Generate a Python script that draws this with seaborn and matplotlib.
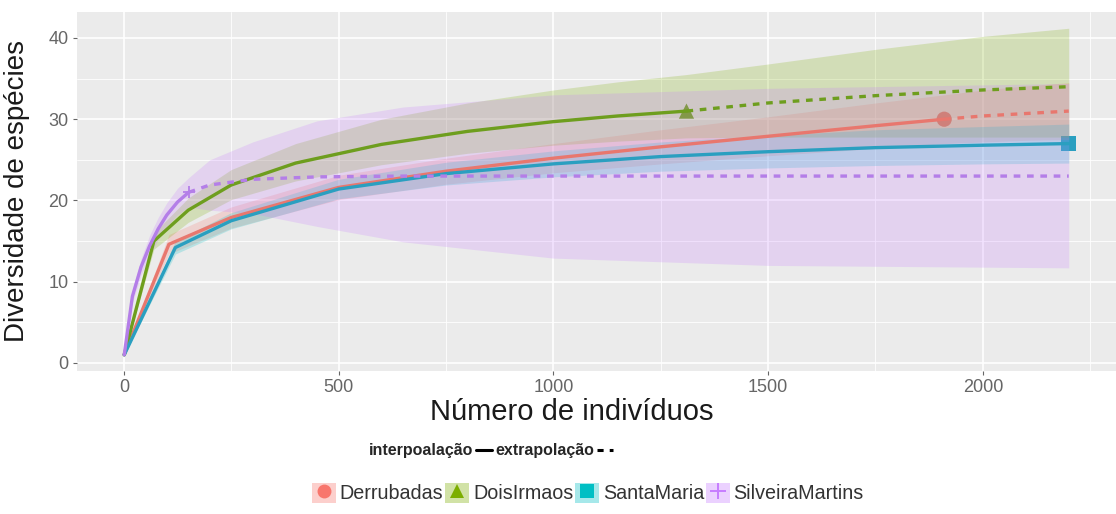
import numpy as np
import pandas as pd
import matplotlib
matplotlib.use("Agg")
import matplotlib.pyplot as plt
from matplotlib.lines import Line2D
from matplotlib.patches import Patch
import seaborn as sns

# ---------------- data ----------------
sites = ["Derrubadas", "DoisIrmaos", "SantaMaria", "SilveiraMartins"]
colors = ["#F8766D", "#7CAE00", "#00BFC4", "#C77CFF"]
line_colors = ["#E8776E", "#6E9E1E", "#2A9FC0", "#B47EE8"]
markers = ["o", "^", "s", "+"]

# Derrubadas
der_n_int = [1, 105, 250, 500, 750, 1000, 1250, 1500, 1750, 1910]
der_s_int = [1, 14.6, 17.9, 21.6, 23.6, 25.2, 26.6, 27.9, 29.2, 30.0]
der_lo_int = [1, 13.4, 16.6, 20.1, 22.0, 23.4, 24.5, 25.5, 26.4, 27.0]
der_hi_int = [1, 15.8, 19.2, 23.1, 25.2, 27.0, 28.7, 30.3, 32.0, 33.0]
der_n_ext = [1910, 2000, 2100, 2200]
der_s_ext = [30.0, 30.4, 30.7, 31.0]
der_lo_ext = [27.0, 27.2, 27.4, 27.5]
der_hi_ext = [33.0, 33.6, 34.1, 34.5]

# DoisIrmaos
doi_n_int = [1, 70, 150, 250, 400, 600, 800, 1000, 1150, 1310]
doi_s_int = [1, 15.0, 18.8, 21.9, 24.6, 26.9, 28.5, 29.7, 30.4, 31.0]
doi_lo_int = [1, 14.0, 17.3, 20.1, 22.4, 24.4, 25.8, 26.8, 27.3, 27.7]
doi_hi_int = [1, 16.0, 20.3, 23.8, 27.0, 30.0, 32.0, 33.6, 34.6, 35.5]
doi_n_ext = [1310, 1500, 1750, 2000, 2200]
doi_s_ext = [31.0, 32.0, 32.9, 33.6, 34.0]
doi_lo_ext = [27.7, 27.8, 27.8, 27.8, 27.8]
doi_hi_ext = [35.5, 36.8, 38.6, 40.2, 41.2]

# SantaMaria
san_n_int = [1, 120, 250, 500, 750, 1000, 1250, 1500, 1750, 2000, 2200]
san_s_int = [1, 14.2, 17.5, 21.4, 23.3, 24.5, 25.4, 26.0, 26.5, 26.8, 27.0]
san_lo_int = [1, 13.4, 16.5, 20.2, 21.9, 22.9, 23.6, 24.0, 24.3, 24.5, 24.6]
san_hi_int = [1, 15.0, 18.5, 22.6, 24.7, 26.1, 27.2, 28.0, 28.7, 29.1, 29.4]
san_n_ext = [2200]
san_s_ext = [27.0]
san_lo_ext = [24.6]
san_hi_ext = [29.4]

# SilveiraMartins
sil_n_int = [1, 20, 40, 60, 80, 100, 125, 151]
sil_s_int = [1, 8.2, 11.8, 14.4, 16.5, 18.2, 19.8, 21.0]
sil_lo_int = [1, 7.4, 10.8, 13.2, 15.2, 16.8, 18.2, 19.2]
sil_hi_int = [1, 9.0, 12.8, 15.7, 17.9, 19.7, 21.5, 22.8]
sil_n_ext = [151, 200, 300, 450, 650, 1000, 1500, 2200]
sil_s_ext = [21.0, 21.9, 22.6, 22.9, 23.0, 23.0, 23.0, 23.0]
sil_lo_ext = [19.2, 18.8, 18.4, 16.8, 14.9, 12.9, 12.0, 11.7]
sil_hi_ext = [22.8, 25.0, 27.2, 29.8, 31.5, 33.0, 33.8, 34.4]

lty_labels = ["interpoalação", "extrapolação"]
x_ticks = [0, 500, 1000, 1500, 2000]
y_ticks = [0, 10, 20, 30, 40]

series = [
    (der_n_int, der_s_int, der_lo_int, der_hi_int, der_n_ext, der_s_ext, der_lo_ext, der_hi_ext),
    (doi_n_int, doi_s_int, doi_lo_int, doi_hi_int, doi_n_ext, doi_s_ext, doi_lo_ext, doi_hi_ext),
    (san_n_int, san_s_int, san_lo_int, san_hi_int, san_n_ext, san_s_ext, san_lo_ext, san_hi_ext),
    (sil_n_int, sil_s_int, sil_lo_int, sil_hi_int, sil_n_ext, sil_s_ext, sil_lo_ext, sil_hi_ext),
]

# ---------------- style ----------------
sns.set_theme(style="darkgrid", rc={
    "axes.facecolor": "#EBEBEB",
    "grid.color": "white",
    "axes.edgecolor": "none",
})
plt.rcParams["font.family"] = ["Liberation Sans", "DejaVu Sans"]

fig = plt.figure(figsize=(11.16, 5.14), dpi=100)
ax = fig.add_axes([77 / 1116, 1 - 371 / 514, 1039 / 1116, 359 / 514])

LW = 2.4
for i, (ni, si, li, hi, ne, se, le, he) in enumerate(series):
    c = line_colors[i]
    sns.lineplot(x=ni, y=si, ax=ax, color=c, linewidth=LW, sort=False,
                 estimator=None, legend=False)
    if len(ne) > 1:
        sns.lineplot(x=ne, y=se, ax=ax, color=c, linewidth=LW, sort=False,
                     estimator=None, legend=False, dashes=False)
        ax.lines[-1].set_dashes((2, 2))
    # observed point
    if markers[i] == "+":
        ax.plot([ni[-1]], [si[-1]], marker="+", color=c, markersize=9,
                markeredgewidth=1.3, linestyle="none")
    else:
        sns.scatterplot(x=[ni[-1]], y=[si[-1]], ax=ax, color=c, marker=markers[i],
                        s=120, edgecolor="none", legend=False)

# ribbons drawn on top (as in ggiNEXT)
for i, (ni, si, li, hi, ne, se, le, he) in enumerate(series):
    c = colors[i]
    n_all = list(ni) + list(ne[1:])
    lo_all = list(li) + list(le[1:])
    hi_all = list(hi) + list(he[1:])
    ax.fill_between(n_all, lo_all, hi_all, color=c, alpha=0.22, linewidth=0)

ax.set_xlim(-109, 2310)
ax.set_ylim(-1.0, 43.2)
ax.set_xticks(x_ticks)
ax.set_yticks(y_ticks)
ax.set_xticks([250, 750, 1250, 1750, 2250], minor=True)
ax.set_yticks([5, 15, 25, 35], minor=True)
ax.grid(which="major", color="white", linewidth=1.2)
ax.grid(which="minor", color="white", linewidth=0.6)
ax.tick_params(axis="both", which="major", labelsize=13, colors="#666666",
               length=3, width=0.8, direction="out", pad=3)
ax.tick_params(axis="both", which="minor", length=0)
ax.tick_params(axis="x", bottom=True)
ax.tick_params(axis="y", left=True)

ax.set_xlabel("Número de indivíduos", fontsize=21, color="#1a1a1a")
ax.set_ylabel("Diversidade de espécies", fontsize=20, color="#1a1a1a")
ax.xaxis.set_label_coords((572 - 77) / 1039, -(398 - 371) / 359)
ax.yaxis.set_label_coords(-(77 - 30) / 1039, 0.5)

# legend 1: line type
lty_handles = [Line2D([], [], color="black", linewidth=2.2),
               Line2D([], [], color="black", linewidth=2.2, dashes=(2, 2))]
leg1 = fig.legend(lty_handles, lty_labels, loc="center",
                  bbox_to_anchor=(491 / 1116, 1 - 451 / 514), ncol=2,
                  frameon=False, markerfirst=False, handlelength=1.0,
                  handletextpad=0.2, columnspacing=0.2,
                  prop={"weight": "bold", "size": 11.5})

# legend 2: sites
site_handles = []
for i in range(4):
    p = Patch(facecolor=colors[i], alpha=0.35, edgecolor="none")
    if markers[i] == "+":
        m = Line2D([], [], marker="+", color=colors[i], markersize=12,
                   markeredgewidth=1.4, linestyle="none")
    else:
        m = Line2D([], [], marker=markers[i], color=colors[i], markersize=10,
                   markeredgewidth=0, linestyle="none")
    site_handles.append((p, m))
leg2 = fig.legend(site_handles, sites, loc="center",
                  bbox_to_anchor=(588 / 1116, 1 - 493 / 514), ncol=4,
                  frameon=False, handlelength=1.2, handleheight=1.2,
                  handletextpad=0.2, columnspacing=0.1,
                  prop={"size": 14.2})
for t in leg2.get_texts():
    t.set_color("#333333")

fig.savefig("out.png", dpi=100)
